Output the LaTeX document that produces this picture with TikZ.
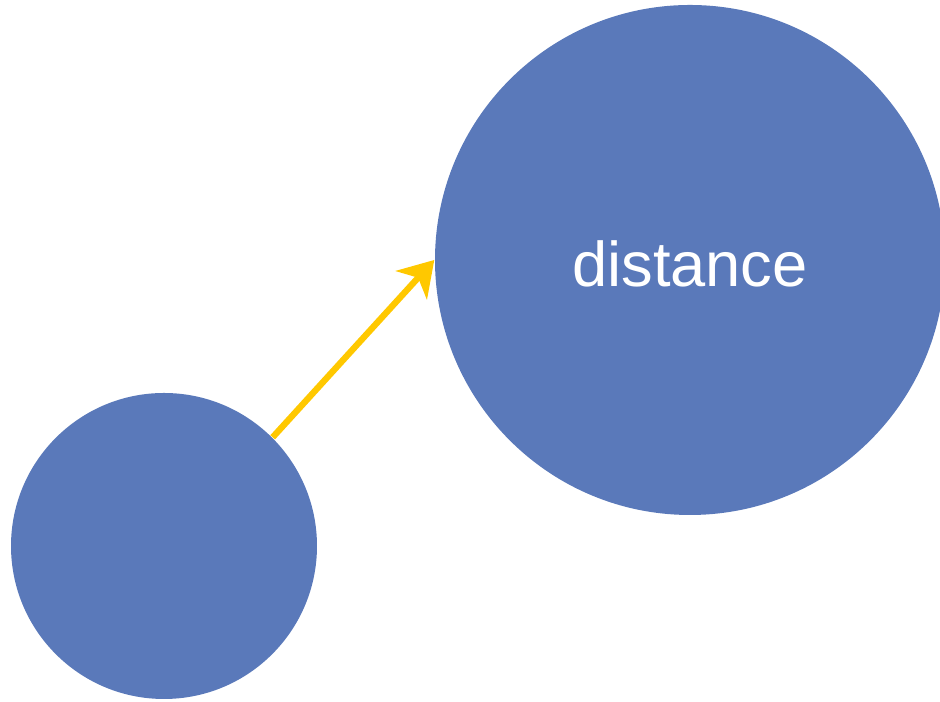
\documentclass[tikz,border=0pt]{standalone}
\usepackage{fontspec}
\setmainfont{Liberation Sans}
\usetikzlibrary{arrows.meta,positioning}
\definecolor{ballblue}{HTML}{5A79BA}
\definecolor{goldarrow}{HTML}{FFC800}

\tikzset{
  ball/.style={circle, fill=ballblue, draw=none, inner sep=0pt},
  balltext/.style={text=white, font=\fontsize{18}{21}\selectfont, inner sep=0pt},
  push/.style={goldarrow, line width=1.8pt, -{Stealth[length=3.4mm, width=4.2mm, inset=1mm]}}
}

\begin{document}
\begin{tikzpicture}
  \useasboundingbox (0,0) rectangle (9.4,7.02);
  \clip (0,0) rectangle (9.4,7.02);
  \node[ball, minimum size=3.06cm] (small) at (1.64,1.56) {};
  \node[ball, minimum size=5.10cm] (big) at (6.90,4.42) {};
  \node[balltext] (label) at ([yshift=-0.04cm]big.center) {distance};
  \draw[push] (small.45) -- (big.west);
\end{tikzpicture}
\end{document}
